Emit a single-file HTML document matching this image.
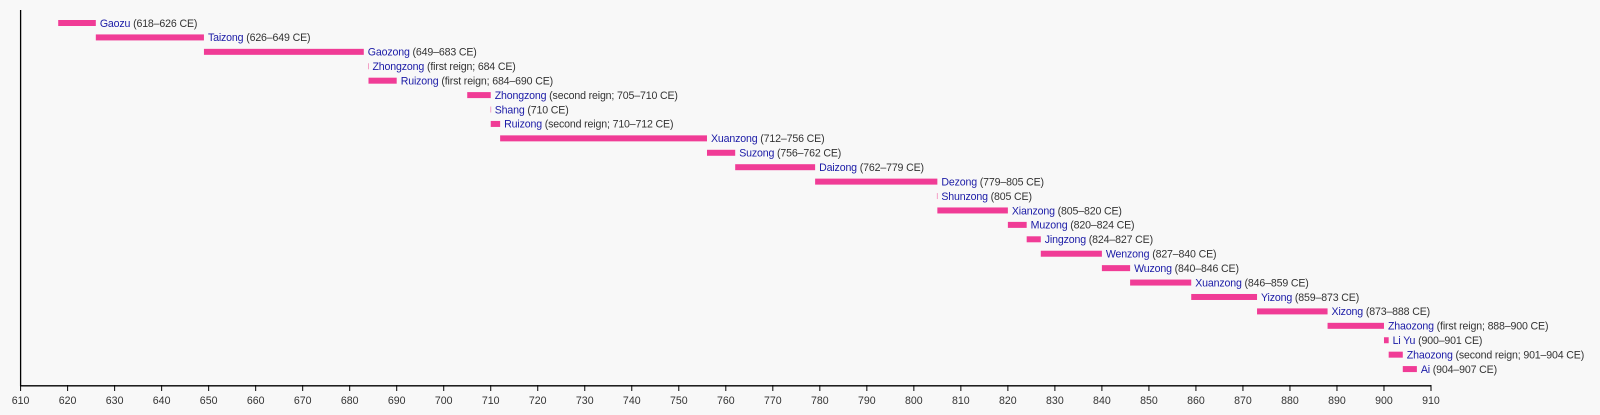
<!DOCTYPE html>
<html><head><meta charset="utf-8"><style>
html,body{margin:0;padding:0;background:#f8f8f8;}
svg{display:block;font-family:"Liberation Sans",sans-serif;}
</style></head><body>
<svg width="1600" height="415" xmlns="http://www.w3.org/2000/svg">
<rect width="1600" height="415" fill="#f8f8f8"/>
<g id="bars"></g>
<line x1="20.6" y1="10" x2="20.6" y2="386" stroke="#000" stroke-width="1.3"/>
<line x1="20" y1="385.8" x2="1431.4" y2="385.8" stroke="#000" stroke-width="1.3"/>
<g id="ticks"></g>
</svg>
<script>
var ns="http://www.w3.org/2000/svg";
function X(y){return 20.6+(y-610)*4.7013;}
var data=[
["Gaozu","618–626 CE",618,626],
["Taizong","626–649 CE",626,649],
["Gaozong","649–683 CE",649,683],
["Zhongzong","first reign; 684 CE",684,684],
["Ruizong","first reign; 684–690 CE",684,690],
["Zhongzong","second reign; 705–710 CE",705,710],
["Shang","710 CE",710,710],
["Ruizong","second reign; 710–712 CE",710,712],
["Xuanzong","712–756 CE",712,756],
["Suzong","756–762 CE",756,762],
["Daizong","762–779 CE",762,779],
["Dezong","779–805 CE",779,805],
["Shunzong","805 CE",805,805],
["Xianzong","805–820 CE",805,820],
["Muzong","820–824 CE",820,824],
["Jingzong","824–827 CE",824,827],
["Wenzong","827–840 CE",827,840],
["Wuzong","840–846 CE",840,846],
["Xuanzong","846–859 CE",846,859],
["Yizong","859–873 CE",859,873],
["Xizong","873–888 CE",873,888],
["Zhaozong","first reign; 888–900 CE",888,900],
["Li Yu","900–901 CE",900,901],
["Zhaozong","second reign; 901–904 CE",901,904],
["Ai","904–907 CE",904,907]];
var g=document.getElementById("bars"),h="";
data.forEach(function(d,i){
 var y=23+i*14.42,x1=X(d[2]),x2=X(d[3]);
 if(d[2]==d[3]){h+='<rect x="'+(x1-0.5)+'" y="'+(y-3)+'" width="1" height="6" fill="#f3a0c6"/>';x2=x1;}
 else h+='<rect x="'+x1+'" y="'+(y-3)+'" width="'+(x2-x1)+'" height="6" fill="#f03c96"/>';
 h+='<text x="'+(x2+4)+'" y="'+(y+3.8)+'" font-size="10.6" letter-spacing="-0.15" fill="#333"><tspan fill="#1a1aa6">'+d[0]+'</tspan> ('+d[1]+')</text>';
});
g.innerHTML=h;
var t="";
for(var v=610;v<=910;v+=10){var x=X(v);
 t+='<line x1="'+x+'" y1="385" x2="'+x+'" y2="391" stroke="#000" stroke-width="1"/>';
 t+='<text x="'+x+'" y="404" font-size="10.6" fill="#333" text-anchor="middle">'+v+'</text>';}
document.getElementById("ticks").innerHTML=t;
</script>
</body></html>
